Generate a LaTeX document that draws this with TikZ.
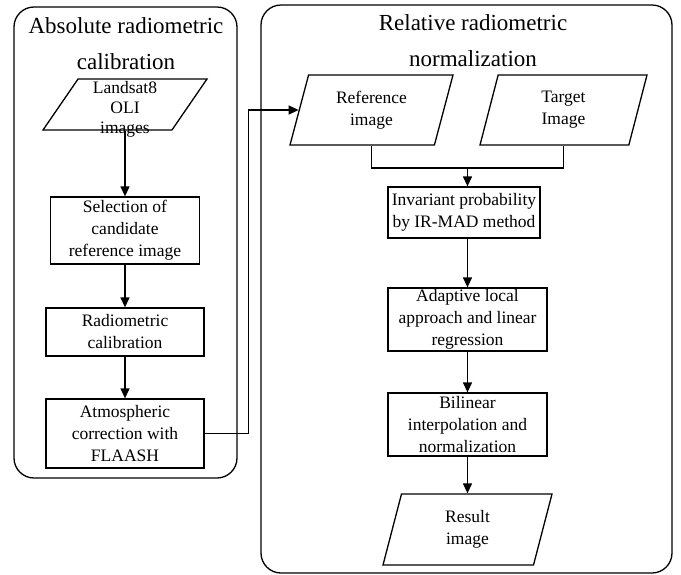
\documentclass[tikz,border=0pt]{standalone}
\usepackage{fontspec}
\setmainfont{Liberation Serif}
\usetikzlibrary{shapes.geometric,arrows.meta}

\tikzset{
  proc/.style={draw, rectangle, align=center, inner sep=1pt, font=\fontsize{17.5}{22}\selectfont},
  io/.style={draw, trapezium, trapezium left angle=64, trapezium right angle=116,
    trapezium stretches body, align=center, inner sep=0pt, font=\fontsize{17.5}{22}\selectfont},
  title/.style={align=center, inner sep=0pt, font=\fontsize{23}{36}\selectfont}
}

\begin{document}
\begin{tikzpicture}[x=1pt, y=-1pt, line width=1.3pt, >={Triangle[length=10pt,width=9pt]}]
  \useasboundingbox (0,0) rectangle (681,574);
  % the two groups
  \draw[rounded corners=20pt] (14,7) rectangle (237,478);
  \draw[rounded corners=20pt] (261,5) rectangle (672,573);
  \node[title, anchor=north] (abstitle) at (126,17) {Absolute radiometric\\calibration};
  \node[title, anchor=north] (reltitle) at (473,14) {Relative radiometric\\normalization};

  % absolute calibration
  \node[io, trapezium left angle=55.5, trapezium right angle=124.5, minimum width=164pt,
    minimum height=51pt] (landsat) at (125,104.5) {\rule{0pt}{51pt}};
  \node[align=center, inner sep=0pt, font=\fontsize{17.5}{20}\selectfont]
    (landsattxt) at (125,109) {Landsat8\\OLI\\images};
  \node[proc, minimum width=149pt, minimum height=67pt] (select) at (125,230.5) {Selection of\\candidate\\reference image};
  \node[proc, minimum width=158pt, minimum height=48pt] (radcal) at (125,332) {Radiometric\\calibration};
  \node[proc, minimum width=158pt, minimum height=69pt] (flaash) at (125,433.5) {Atmospheric\\correction with\\FLAASH};

  % relative normalization
  \node[io, minimum width=163pt, minimum height=70pt] (ref) at (371.5,110) {Reference\\image};
  \node[io, minimum width=167pt, minimum height=70pt] (target) at (563.5,110) {Target\\Image};
  \coordinate (join) at (467.5,168);
  \node[proc, minimum width=152pt, minimum height=51pt] (irmad) at (464,212.5) {Invariant probability\\by IR-MAD method};
  \node[proc, minimum width=159pt, minimum height=63pt] (adapt) at (467.5,319.5) {Adaptive local\\approach and linear\\regression};
  \node[proc, minimum width=159pt, minimum height=63pt] (bilin) at (467.5,424.5) {Bilinear\\interpolation and\\normalization};
  \node[io, minimum width=169pt, minimum height=71pt] (result) at (467.5,529.5) {Result\\image};

  \draw[->] (landsat) -- (select);
  \draw[->] (select) -- (radcal);
  \draw[->] (radcal) -- (flaash);
  \draw[->] (flaash.east) -- ++(44,0) |- (ref.west);
  \draw (ref.south) |- (join) -| (target.south);
  \draw[->] (join) -- (join |- irmad.north);
  \draw[->] (irmad.south -| adapt.north) -- (adapt.north);
  \draw[->] (adapt) -- (bilin);
  \draw[->] (bilin) -- (result);
\end{tikzpicture}
\end{document}
